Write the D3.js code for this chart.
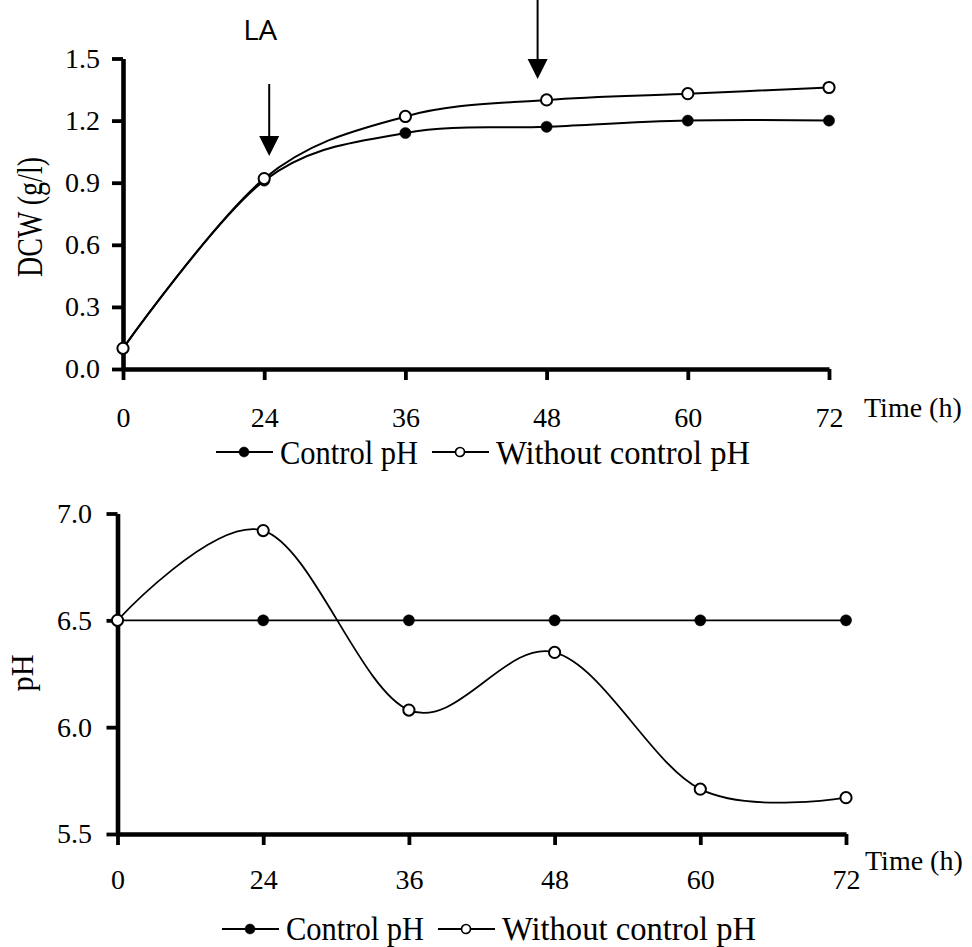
<!DOCTYPE html>
<html><head><meta charset="utf-8">
<script src="https://cdn.jsdelivr.net/npm/d3@7/dist/d3.min.js"></script>
<style>body{margin:0;background:#fff}svg{display:block}</style>
</head><body><svg id="c" width="972" height="947"></svg>
<script>
// ---- data ----
const times = ["0", "24", "36", "48", "60", "72"];
const seriesNames = ["Control pH", "Without control pH"];
const dcwControl = [0.10, 0.91, 1.14, 1.17, 1.20, 1.20];
const dcwWithout = [0.10, 0.92, 1.22, 1.30, 1.33, 1.36];
const phControl = [6.5, 6.5, 6.5, 6.5, 6.5, 6.5];
const phWithout = [6.5, 6.92, 6.08, 6.35, 5.71, 5.67];
const dcwTicks = [0.0, 0.3, 0.6, 0.9, 1.2, 1.5];
const phTicks = [5.5, 6.0, 6.5, 7.0];
const arrowTimes = ["24", "48"];
const arrowLabel = "LA";
const xTitle = "Time (h)";
const dcwTitle = "DCW (g/l)";
const phTitle = "pH";

const svg = d3.select("#c");
const serif = "'Liberation Serif','Times New Roman',serif";
const curve = d3.curveCardinal.tension(0);

function panel(o) {
  const g = svg.append("g");
  const x = d3.scalePoint().domain(times).range(o.xr);
  const y = d3.scaleLinear().domain(o.yd).range(o.yr);

  const ya = g.append("g").attr("transform", `translate(${o.xr[0]},0)`)
    .call(d3.axisLeft(y).tickValues(o.ticks).tickFormat(d3.format(".1f")).tickSize(11).tickSizeOuter(0));
  const xa = g.append("g").attr("transform", `translate(0,${o.yr[0]})`)
    .call(d3.axisBottom(x).tickSize(11).tickSizeOuter(0));
  [ya, xa].forEach(a => {
    a.attr("font-family", serif).attr("font-size", 28);
    a.select(".domain").style("stroke", "#000").style("stroke-width", "4.6px");
    a.selectAll(".tick line").style("stroke", "#000").style("stroke-width", "3.8px");
    a.selectAll(".tick text").attr("fill", "#000");
  });
  ya.selectAll(".tick text").attr("x", -o.yLabOff);
  xa.selectAll(".tick text").attr("y", o.xLabBase).attr("dy", 0);

  g.append("text").attr("x", o.xTitleX).attr("y", o.xTitleY).text(xTitle)
    .attr("font-family", serif).attr("font-size", 28);
  g.append("text").attr("transform", `translate(${o.yTitleX},${o.yTitleY}) rotate(-90)`)
    .attr("text-anchor", "middle").text(o.yTitle)
    .attr("textLength", o.yTitleLen).attr("lengthAdjust", "spacingAndGlyphs")
    .attr("font-family", serif).attr("font-size", o.yTitleSize);

  const line = d3.line().x((d, i) => x(times[i])).y(d => y(d)).curve(curve);
  o.series.forEach((s) => {
    g.append("path").attr("d", line(s)).attr("fill", "none")
      .attr("stroke", "#000").attr("stroke-width", o.lw);
  });
  o.series.forEach((s, k) => {
    g.selectAll(null).data(s).enter().append("circle")
      .attr("cx", (d, i) => x(times[i])).attr("cy", d => y(d)).attr("r", 5.6)
      .attr("fill", k === 0 ? "#000" : "#fff").attr("stroke", "#000").attr("stroke-width", k === 0 ? 0.5 : 2);
  });

  const lg = g.append("g").attr("transform", `translate(${o.legX},${o.legY})`);
  const textW = [138, 254];
  let cx = 0;
  seriesNames.forEach((n, k) => {
    lg.append("line").attr("x1", cx).attr("x2", cx + 57).attr("y1", 0).attr("y2", 0)
      .attr("stroke", "#000").attr("stroke-width", 2);
    lg.append("circle").attr("cx", cx + 28).attr("cy", 0).attr("r", k === 0 ? 5 : 4.5)
      .attr("fill", k === 0 ? "#000" : "#fff").attr("stroke", "#000").attr("stroke-width", k === 0 ? 0.5 : 1.7);
    lg.append("text").attr("x", cx + 64).attr("y", o.legBase).text(n)
      .attr("textLength", textW[k]).attr("lengthAdjust", "spacingAndGlyphs")
      .attr("font-family", serif).attr("font-size", 33);
    cx += 64 + textW[k] + 14;
  });
  return {x, y, g};
}

const topPanel = panel({
  xr: [123, 829], yr: [369, 58.5], yd: [0, 1.5], ticks: dcwTicks,
  yLabOff: 23, xLabBase: 58, xTitleX: 864, xTitleY: 417,
  yTitle: dcwTitle, yTitleX: 42, yTitleY: 217, yTitleLen: 120, yTitleSize: 36,
  series: [dcwControl, dcwWithout], lw: 2,
  legX: 216, legY: 452, legBase: 12
});
const botPanel = panel({
  xr: [117.5, 846], yr: [834, 513.5], yd: [5.5, 7.0], ticks: phTicks,
  yLabOff: 25.5, xLabBase: 55, xTitleX: 865, xTitleY: 870,
  yTitle: phTitle, yTitleX: 33, yTitleY: 673, yTitleLen: 37, yTitleSize: 31,
  series: [phControl, phWithout], lw: 1.75,
  legX: 222, legY: 929, legBase: 11
});

const arrowSpec = [{dx: 5, y0: 84, tip: 156}, {dx: -9, y0: 0, tip: 79}];
arrowTimes.forEach((t, i) => {
  const s = arrowSpec[i], ax = topPanel.x(t) + s.dx;
  topPanel.g.append("line").attr("x1", ax).attr("x2", ax).attr("y1", s.y0).attr("y2", s.tip - 18)
    .attr("stroke", "#000").attr("stroke-width", 2);
  topPanel.g.append("path").attr("d", `M${ax - 10},${s.tip - 20}L${ax + 10},${s.tip - 20}L${ax},${s.tip}Z`).attr("fill", "#000");
});
topPanel.g.append("text").attr("x", topPanel.x(arrowTimes[0]) - 4).attr("y", 40).attr("text-anchor", "middle")
  .text(arrowLabel).attr("textLength", 34).attr("lengthAdjust", "spacingAndGlyphs")
  .attr("font-family", "'Open Sans','DejaVu Sans',sans-serif").attr("font-size", 27);
</script></body></html>
